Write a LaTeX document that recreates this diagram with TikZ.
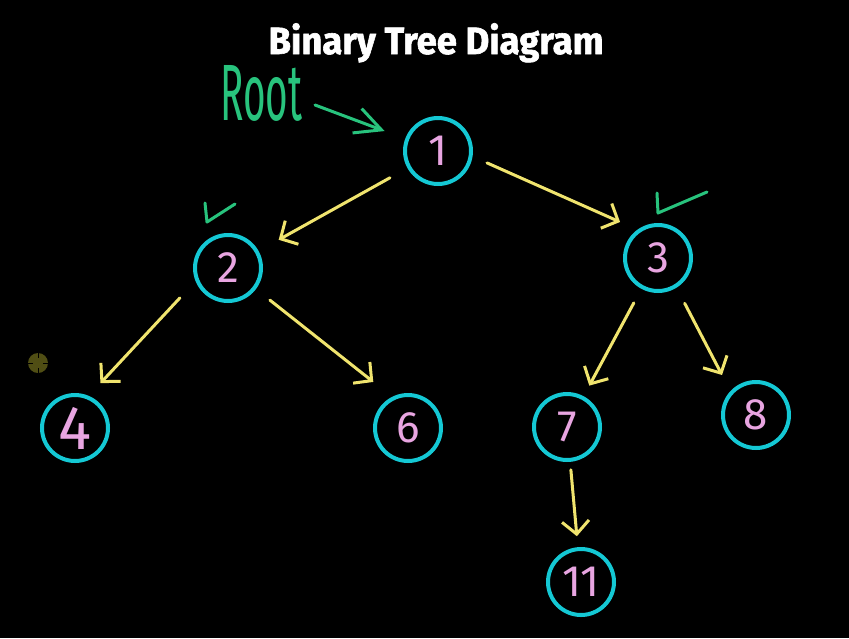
\documentclass[tikz,border=0pt]{standalone}
\usepackage{fontspec}
\setmainfont{Fira Sans}
\newfontfamily\titlefont[BoldFeatures={FakeBold=1.6}]{Fira Sans}
\usetikzlibrary{arrows.meta}
\definecolor{cy}{RGB}{20,200,212}
\definecolor{yl}{RGB}{240,228,110}
\definecolor{gr}{RGB}{40,195,125}
\definecolor{pk}{RGB}{232,165,225}
\definecolor{ol}{RGB}{80,78,20}
\begin{document}
\begin{tikzpicture}[x=1pt,y=-1pt,
  tnode/.style={circle,draw=cy,line width=4pt,minimum size=66pt,inner sep=0pt,text=pk,font=\fontsize{44}{44}\selectfont},
  edge/.style={draw=yl,line width=3pt,line cap=round,-{Straight Barb[length=13pt,width=27pt]}},
  tick/.style={draw=gr,line width=3pt,line cap=round,line join=round}]
\fill[black] (0,0) rectangle (849,638);
\useasboundingbox (0,0) rectangle (849,638);
% title
\node[text=white,inner sep=0pt,anchor=base] (title) at (436,54)
  {\titlefont\fontsize{38}{38}\selectfont\bfseries\resizebox{335pt}{\height}{Binary Tree Diagram}};
% tree nodes
\node[tnode] (n1) at (438,151) {1};
\node[tnode] (n2) at (228,268) {2};
\node[tnode] (n3) at (658,258) {3};
\node[tnode,font=\fontsize{62}{62}\selectfont] (n4) at (75,428) {4};
\node[tnode] (n6) at (408,428) {6};
\node[tnode] (n7) at (567,427) {7};
\node[tnode] (n8) at (756,415) {8};
\node[tnode] (n11) at (581,582) {11};
% edges
\draw[edge,shorten <=20pt,shorten >=23pt] (n1) -- (n2);
\draw[edge,shorten <=15.8pt,shorten >=19pt] (n1.351) -- (n3.126);
\draw[edge,shorten <=22.9pt,shorten >=17.3pt] (n2.202.5) -- (n4.67.8);
\draw[edge,shorten <=17.8pt,shorten >=24pt] (n2.323.4) -- (n6.117.5);
\draw[edge,shorten <=16pt,shorten >=12pt] (n3) -- (n7);
\draw[edge,shorten <=17.6pt,shorten >=18.2pt] (n3.302.9) -- (n8.137.2);
\draw[edge,shorten <=8pt,shorten >=11pt] (n7) -- (n11);
% root label and arrow
\node[text=gr,inner sep=0pt,anchor=south west] (root) at (220,122)
  {\resizebox{82pt}{55pt}{Root}};
\coordinate (ra) at (315,105);
\draw[draw=gr,line width=3pt,line cap=round,-{Straight Barb[length=26pt,width=26pt]},shorten >=22pt] (ra) -- (n1);
% check marks
\draw[tick] (205,203) -- (207,222) -- (235,204);
\draw[tick] (657,193) -- (658,213) -- (707,192);
% small olive marker
\fill[ol] (38,363) circle (10);
\draw[black,line width=1pt] (28,363) -- (33,363) (43,363) -- (48,363) (38,353) -- (38,358) (38,368) -- (38,373);
\end{tikzpicture}
\end{document}
